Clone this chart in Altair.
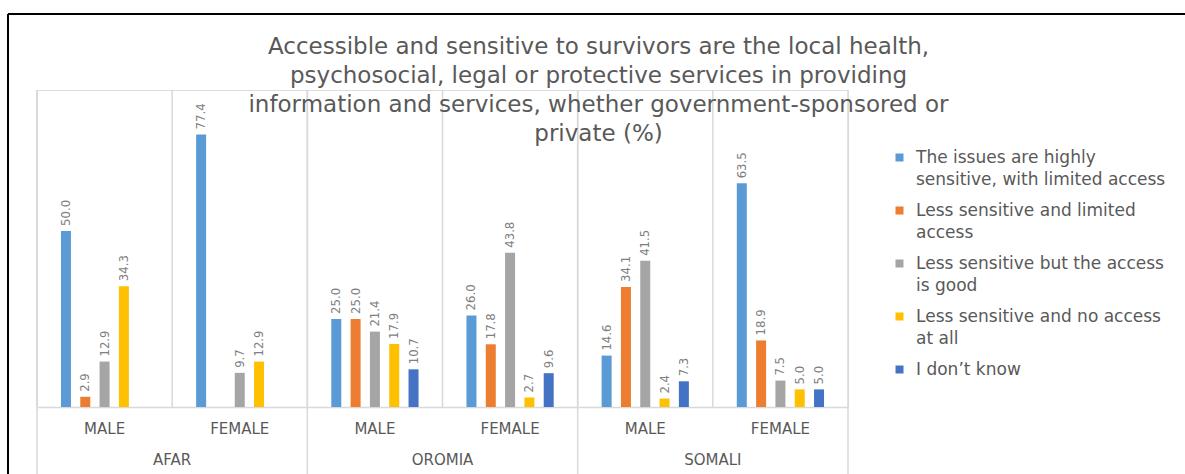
import altair as alt
import pandas as pd

regions = ["AFAR", "AFAR", "OROMIA", "OROMIA", "SOMALI", "SOMALI"]
genders = ["MALE", "FEMALE", "MALE", "FEMALE", "MALE", "FEMALE"]

series_names = [
    "The issues are highly sensitive, with limited access",
    "Less sensitive and limited access",
    "Less sensitive but the access is good",
    "Less sensitive and no access at all",
    "I don\u2019t know",
]
legend_lines = [
    ["The issues are highly", "sensitive, with limited access"],
    ["Less sensitive and limited", "access"],
    ["Less sensitive but the access", "is good"],
    ["Less sensitive and no access", "at all"],
    ["I don\u2019t know"],
]
colors = ["#5B9BD5", "#ED7D31", "#A5A5A5", "#FFC000", "#4472C4"]

s1 = [50.0, 77.4, 25.0, 26.0, 14.6, 63.5]
s2 = [2.9, None, 25.0, 17.8, 34.1, 18.9]
s3 = [12.9, 9.7, 21.4, 43.8, 41.5, 7.5]
s4 = [34.3, 12.9, 17.9, 2.7, 2.4, 5.0]
s5 = [None, None, 10.7, 9.6, 7.3, 5.0]

title_lines = [
    "Accessible and sensitive to survivors are the local health,",
    "psychosocial, legal or protective services in providing",
    "information and services, whether government-sponsored or",
    "private (%)",
]

W, H = 811, 317

grp = [f"{r}|{g}" for r, g in zip(regions, genders)]
rows = []
for name, vals in zip(series_names, [s1, s2, s3, s4, s5]):
    for k, v in zip(grp, vals):
        if v is not None:
            rows.append({"grp": k, "series": name, "value": v})
df = pd.DataFrame(rows)

grid_df = pd.DataFrame({"grp": grp})
sep_df = pd.DataFrame({"grp": [g for g in grp if g.endswith("|MALE")]})
end_df = pd.DataFrame({"grp": [grp[-1]]})
reg_df = pd.DataFrame({"grp": [g for g in grp if g.endswith("|FEMALE")],
                       "region": [r for r, g in zip(regions, genders) if g == "FEMALE"]})

legend_expr = " : ".join(
    [f"datum.label == {name!r} ? {lines!r}" for name, lines in zip(series_names, legend_lines)]
) + " : datum.label"

xaxis = alt.Axis(title=None, labelExpr="split(datum.label, '|')[1]", ticks=False, grid=False,
                 domainColor="#d9d9d9", domainWidth=1.5, labelAngle=0, labelFont="DejaVu Sans",
                 labelFontSize=15, labelColor="#595959", labelPadding=14)
xscale = alt.Scale(paddingInner=0, paddingOuter=0)


def X(bp=None):
    if bp is None:
        return alt.X("grp:N", sort=grp, scale=xscale, axis=xaxis)
    return alt.X("grp:N", sort=grp, scale=xscale, axis=xaxis, bandPosition=bp)


xoff = alt.XOffset("series:N", sort=series_names,
                   scale=alt.Scale(domain=series_names, paddingInner=0, paddingOuter=1))
yenc = alt.Y("value:Q", scale=alt.Scale(domain=[0, 90]), axis=None)

bars = alt.Chart(df).mark_bar(width=10).encode(
    x=X(), xOffset=xoff, y=yenc,
    color=alt.Color("series:N", sort=series_names,
                    scale=alt.Scale(domain=series_names, range=colors),
                    legend=alt.Legend(title=None, orient="none", legendX=854, legendY=59,
                                      symbolType="square", symbolSize=64, symbolStrokeWidth=0,
                                      labelFont="DejaVu Sans", labelFontSize=17, labelColor="#595959",
                                      labelExpr=legend_expr, labelLimit=400, labelOffset=8,
                                      labelBaseline="middle", rowPadding=13)),
)

labels = alt.Chart(df).mark_text(angle=270, align="left", baseline="middle", dx=5,
                                 font="DejaVu Sans Condensed", fontSize=13, color="#7f7f7f").encode(
    x=X(), xOffset=xoff, y=yenc, text=alt.Text("value:Q", format=".1f"))

grid = alt.Chart(grid_df).mark_rule(color="#d9d9d9", strokeWidth=1.5).encode(
    x=X(0), y=alt.value(0), y2=alt.value(H))
seps = alt.Chart(sep_df).mark_rule(color="#d9d9d9", strokeWidth=1.5).encode(
    x=X(0), y=alt.value(0), y2=alt.value(H + 70))
ends = alt.Chart(end_df).mark_rule(color="#d9d9d9", strokeWidth=1.5).encode(
    x=X(1), y=alt.value(0), y2=alt.value(H + 70))

reg_text = alt.Chart(reg_df).mark_text(font="DejaVu Sans", fontSize=15, color="#595959",
                                       baseline="middle").encode(
    x=X(0), y=alt.value(H + 53), text="region:N")

border_top = alt.Chart(grid_df.head(1)).mark_rule(color="black", strokeWidth=2).encode(
    x=alt.value(-29), x2=alt.value(1160), y=alt.value(-76))
border_left = alt.Chart(grid_df.head(1)).mark_rule(color="black", strokeWidth=2).encode(
    x=alt.value(-29), y=alt.value(-76), y2=alt.value(H + 70))

chart = alt.layer(grid, seps, ends, bars, labels, reg_text, border_top, border_left).properties(
    width=W, height=H,
    title=alt.Title(text=title_lines, font="DejaVu Sans", fontSize=23, fontWeight="normal",
                    color="#595959", anchor="middle", frame="group", dx=156, dy=133, offset=0,
                    lineHeight=29),
    autosize=alt.AutoSizeParams(type="none"),
    padding={"left": 37, "top": 90, "right": 1185 - 37 - W, "bottom": 474 - 90 - H},
).configure_view(stroke=None).configure(
    background="white", style={"guide-label": {"lineHeight": 22}})

chart.save("out.html", embed_options={"renderer": "svg", "actions": False})
